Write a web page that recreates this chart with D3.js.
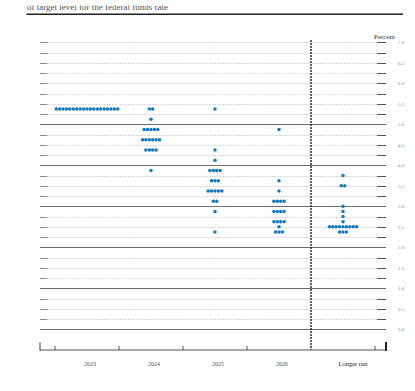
<!DOCTYPE html>
<html>
<head>
<meta charset="utf-8">
<script src="https://cdn.jsdelivr.net/npm/d3@7"></script>
<style>
  html, body { margin: 0; padding: 0; background: #fff; }
  svg { display: block; }
</style>
</head>
<body>
<svg id="chart" width="415" height="391"></svg>
<script>
// ---- data ----
const categories = ["2023", "2024", "2025", "2026", "Longer run"];
// midpoint of target range (percent) and number of participants at it
const rates2023 = [5.375];
const counts2023 = [19];
const rates2024 = [5.375, 5.125, 4.875, 4.625, 4.375, 3.875];
const counts2024 = [2, 1, 5, 6, 4, 1];
const rates2025 = [5.375, 4.375, 4.125, 3.875, 3.625, 3.375, 3.125, 2.875, 2.375];
const counts2025 = [1, 1, 1, 4, 3, 5, 2, 1, 1];
const rates2026 = [4.875, 3.625, 3.375, 3.125, 2.875, 2.625, 2.5, 2.375];
const counts2026 = [1, 1, 1, 4, 4, 4, 1, 3];
const ratesLR = [3.75, 3.5, 3.0, 2.875, 2.75, 2.625, 2.5, 2.375];
const countsLR = [1, 2, 1, 1, 1, 1, 9, 3];
const yTickValues = [0, 0.5, 1, 1.5, 2, 2.5, 3, 3.5, 4, 4.5, 5, 5.5, 6, 6.5, 7];
const titleText = "of target level for the federal funds rate";
const unitText = "Percent";

const seriesRates = [rates2023, rates2024, rates2025, rates2026, ratesLR];
const seriesCounts = [counts2023, counts2024, counts2025, counts2026, countsLR];

// ---- layout ----
const svg = d3.select("#chart");
const left = 40, right = 386, axisY = 350;
const y = d3.scaleLinear().domain([0, 7]).range([329.3, 42.3]);
const x = d3.scaleBand().domain(categories).range([55, 375]).padding(0);
const dotStep = 3.42, dotR = 1.75;
const blue = "#1479b8";
const serif = "'Liberation Serif', 'DejaVu Serif', serif";

// title (upper part cut off, as in the source crop)
svg.append("defs").append("clipPath").attr("id", "titleclip")
  .append("rect").attr("x", 0).attr("y", 5.2).attr("width", 415).attr("height", 8);
svg.append("text").attr("x", 27).attr("y", 9.8)
  .attr("clip-path", "url(#titleclip)")
  .attr("font-family", serif).attr("font-size", 9).attr("fill", "#555")
  .text(titleText);
svg.append("line").attr("x1", 26.5).attr("x2", 403).attr("y1", 14.3).attr("y2", 14.3)
  .attr("stroke", "#222").attr("stroke-width", 1.5);

// gridlines every 0.25
const gridVals = d3.range(0, 7.001, 0.25);
const grid = svg.append("g");
gridVals.forEach(v => {
  const yy = Math.round(y(v)) + 0.5;
  const solid = Math.abs(v - Math.round(v)) < 1e-9 && v <= 5;
  if (solid) {
    grid.append("line").attr("x1", left).attr("x2", right).attr("y1", yy).attr("y2", yy)
      .attr("stroke", "#6e6e6e").attr("stroke-width", 1);
  } else {
    grid.append("line").attr("x1", 47).attr("x2", 377).attr("y1", yy).attr("y2", yy)
      .attr("stroke", "#c4c4c4").attr("stroke-width", 0.8).attr("stroke-dasharray", "1.6,1.1");
    grid.append("line").attr("x1", left).attr("x2", 47).attr("y1", yy).attr("y2", yy)
      .attr("stroke", "#8a8a8a").attr("stroke-width", 1);
    grid.append("line").attr("x1", 377).attr("x2", right).attr("y1", yy).attr("y2", yy)
      .attr("stroke", "#555").attr("stroke-width", 1);
  }
});

// right tick labels
const yAxis = d3.axisRight(y).tickValues(yTickValues).tickFormat(d3.format(".1f")).tickSize(0).tickPadding(0);
const ya = svg.append("g").attr("transform", "translate(398,0)").call(yAxis);
ya.select(".domain").remove();
ya.selectAll("text").attr("font-family", serif).attr("font-size", 5).attr("fill", "#888");

svg.append("text").attr("x", 395).attr("y", 38.5).attr("text-anchor", "end")
  .attr("font-family", serif).attr("font-size", 7).attr("fill", "#333").text(unitText);

// vertical dashed separator before longer run
const sepX = x("Longer run");
svg.append("line").attr("x1", sepX).attr("x2", sepX).attr("y1", 40).attr("y2", axisY)
  .attr("stroke", "#111").attr("stroke-width", 1.3).attr("stroke-dasharray", "2,1");

// dots
const dotData = [];
categories.forEach((c, ci) => {
  seriesRates[ci].forEach((r, ri) => {
    const n = seriesCounts[ci][ri];
    for (let i = 0; i < n; i++) dotData.push({ c, r, i, n });
  });
});
svg.append("g").selectAll("circle").data(dotData).join("circle")
  .attr("cx", d => x(d.c) + x.bandwidth() / 2 + (d.i - (d.n - 1) / 2) * dotStep)
  .attr("cy", d => y(d.r))
  .attr("r", dotR)
  .attr("fill", blue);

// bottom axis
const ax = svg.append("g");
ax.append("line").attr("x1", left).attr("x2", right).attr("y1", axisY).attr("y2", axisY)
  .attr("stroke", "#555").attr("stroke-width", 1);
ax.append("line").attr("x1", left).attr("x2", left).attr("y1", 342.5).attr("y2", axisY + 0.5)
  .attr("stroke", "#555").attr("stroke-width", 1.2);
ax.append("line").attr("x1", right).attr("x2", right).attr("y1", 342).attr("y2", axisY + 1)
  .attr("stroke", "#222").attr("stroke-width", 2);
const tickXs = categories.map(c => x(c)).concat([x.range()[1]]).filter(t => t !== sepX);
ax.selectAll("line.tk").data(tickXs).join("line").attr("class", "tk")
  .attr("x1", d => d).attr("x2", d => d).attr("y1", 346).attr("y2", axisY)
  .attr("stroke", "#555").attr("stroke-width", 1);

// category labels
svg.append("g").selectAll("text").data(categories).join("text")
  .attr("x", d => x(d) + x.bandwidth() / 2 + (d === "Longer run" ? 10 : 3))
  .attr("y", 366)
  .attr("text-anchor", "middle")
  .attr("font-family", serif)
  .attr("font-size", d => d === "Longer run" ? 6.5 : 6)
  .attr("fill", d => d === "Longer run" ? "#222" : "#555")
  .text(d => d);
</script>
</body>
</html>
